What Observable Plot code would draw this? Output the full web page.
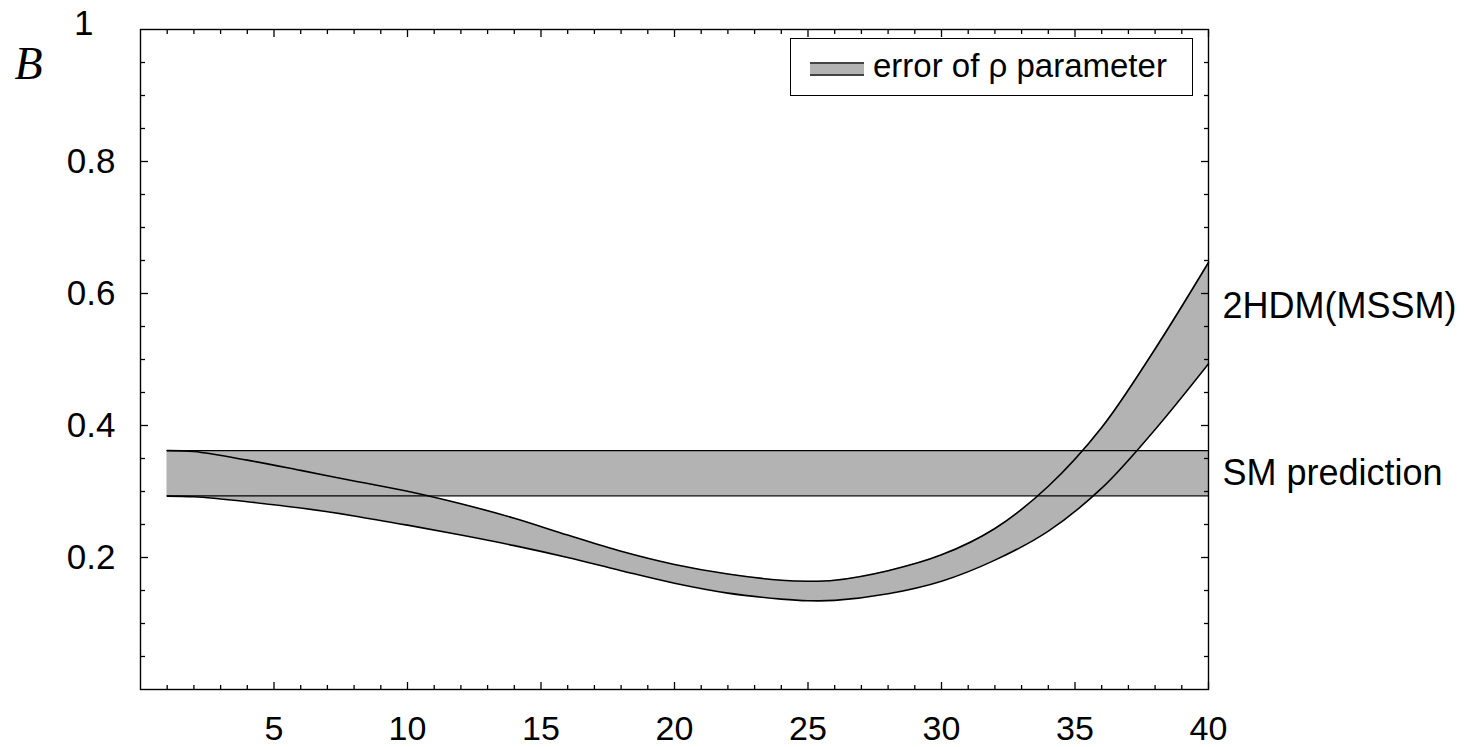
<!DOCTYPE html>
<html>
<head>
<meta charset="utf-8">
<script src="https://cdn.jsdelivr.net/npm/d3@7"></script>
<script src="https://cdn.jsdelivr.net/npm/@observablehq/plot@0.6"></script>
<style>
  body { margin: 0; background: #fff; }
  #wrap { position: relative; width: 1475px; height: 747px; }
  #legend {
    position: absolute; left: 790px; top: 38px; width: 403px; height: 58px;
    border: 1.5px solid #000; box-sizing: border-box; background: #fff;
    font-family: "Liberation Sans", Arial, sans-serif; font-size: 33px; color: #000;
  }
  #legend .sw {
    position: absolute; left: 19px; top: 23px; width: 54px; height: 14px;
    background: #b3b3b3; border-top: 2px solid #444; border-bottom: 2px solid #444; box-sizing: border-box;
  }
  #legend .lab { position: absolute; left: 82px; top: 8px; white-space: nowrap; }
</style>
</head>
<body>
<div id="wrap"></div>
<script>
// ---- data ----
const hdmX     = [1, 2, 4, 6, 8, 10, 12, 14, 16, 18, 20, 22, 24, 25, 26, 28, 30, 32, 34, 36, 38, 40];
const hdmUpper = [0.362, 0.3605, 0.3475, 0.332, 0.316, 0.3005, 0.2815, 0.2595, 0.234, 0.2095, 0.1895, 0.175, 0.1655, 0.164, 0.1655, 0.180, 0.204, 0.244, 0.308, 0.397, 0.516, 0.647];
const hdmLower = [0.293, 0.292, 0.2845, 0.275, 0.263, 0.249, 0.234, 0.218, 0.200, 0.180, 0.161, 0.146, 0.137, 0.1345, 0.135, 0.145, 0.164, 0.196, 0.240, 0.305, 0.394, 0.4935];
const smX      = [1, 40];
const smLow    = 0.2935;
const smHigh   = 0.362;
const xMajor   = [5, 10, 15, 20, 25, 30, 35, 40];
const xMinor   = d3.range(1, 40).filter(v => v % 5 !== 0);
const yMajor   = [0.2, 0.4, 0.6, 0.8];
const yMinor   = [0.05, 0.1, 0.15, 0.25, 0.3, 0.35, 0.45, 0.5, 0.55, 0.65, 0.7, 0.75, 0.85, 0.9, 0.95];
const seriesNames = ["2HDM(MSSM)", "SM prediction"];
const legendText = "error of \u03c1 parameter";
const yAxisTitle = "B";

// ---- tables ----
const hdm = hdmX.map((x, i) => ({x, lo: hdmLower[i], hi: hdmUpper[i]}));
const sm = smX.map(x => ({x, lo: smLow, hi: smHigh}));
const labels = [
  {x: 40, y: 0.58, text: seriesNames[0]},
  {x: 40, y: (smLow + smHigh) / 2, text: seriesNames[1]}
];

const FONT = "Liberation Sans, Arial, Helvetica, sans-serif";
const fill = "#b3b3b3";
const curve = "catmull-rom";

const chart = Plot.plot({
  width: 1475, height: 747,
  marginLeft: 140, marginRight: 267, marginTop: 29, marginBottom: 58,
  x: {domain: [0, 40]},
  y: {domain: [0, 1]},
  style: {fontFamily: FONT, fontSize: "34px", background: "white", color: "black", overflow: "visible"},
  marks: [
    Plot.areaY(sm, {x: "x", y1: "lo", y2: "hi", fill}),
    Plot.areaY(hdm, {x: "x", y1: "lo", y2: "hi", fill, curve}),
    Plot.lineY(sm, {x: "x", y: "lo", stroke: "black", strokeWidth: 1.3}),
    Plot.lineY(sm, {x: "x", y: "hi", stroke: "black", strokeWidth: 1.3}),
    Plot.lineY(hdm, {x: "x", y: "lo", stroke: "black", strokeWidth: 1.6, curve}),
    Plot.lineY(hdm, {x: "x", y: "hi", stroke: "black", strokeWidth: 1.6, curve}),
    Plot.frame({stroke: "black", strokeWidth: 1.4}),
    // x axis labels
    Plot.axisX({ticks: xMajor, anchor: "bottom", tickSize: 0, tickPadding: 26, fontSize: 34, label: null, tickFormat: d => String(d)}),
    // x ticks (inward), bottom and top
    Plot.axisX({ticks: xMajor, anchor: "bottom", tickSize: -7, text: null, label: null, strokeWidth: 1.3}),
    Plot.axisX({ticks: xMinor, anchor: "bottom", tickSize: -4, text: null, label: null, strokeWidth: 1.3}),
    Plot.axisX({ticks: xMajor, anchor: "top", tickSize: -7, text: null, label: null, strokeWidth: 1.3}),
    Plot.axisX({ticks: xMinor, anchor: "top", tickSize: -4, text: null, label: null, strokeWidth: 1.3}),
    // y axis labels
    Plot.axisY({ticks: yMajor, anchor: "left", tickSize: 0, tickPadding: 25, fontSize: 35, label: null, tickFormat: d => String(d)}),
    // y ticks (inward), left and right
    Plot.axisY({ticks: yMajor, anchor: "left", tickSize: -8, text: null, label: null, strokeWidth: 1.3}),
    Plot.axisY({ticks: yMinor, anchor: "left", tickSize: -5, text: null, label: null, strokeWidth: 1.3}),
    Plot.axisY({ticks: yMajor, anchor: "right", tickSize: -8, text: null, label: null, strokeWidth: 1.3}),
    Plot.axisY({ticks: yMinor, anchor: "right", tickSize: -5, text: null, label: null, strokeWidth: 1.3}),
    // the "1" label at the top of the y axis
    Plot.text([1], {x: () => 0, y: d => d, text: d => String(d), dx: -47, dy: -6, textAnchor: "end", fontSize: 35}),
    // y axis title
    Plot.text([yAxisTitle], {frameAnchor: "top-left", text: d => d, dx: -126, dy: 35, textAnchor: "start", lineAnchor: "middle", fontFamily: "Liberation Serif, Times New Roman, serif", fontStyle: "italic", fontSize: 46}),
    // series labels
    Plot.text(labels, {x: "x", y: "y", text: "text", dx: 14, textAnchor: "start", fontSize: 36})
  ]
});

const wrap = document.getElementById("wrap");
wrap.appendChild(chart);
const leg = document.createElement("div");
leg.id = "legend";
leg.innerHTML = '<span class="sw"></span><span class="lab"></span>';
leg.querySelector(".lab").textContent = legendText;
wrap.appendChild(leg);
</script>
</body>
</html>
